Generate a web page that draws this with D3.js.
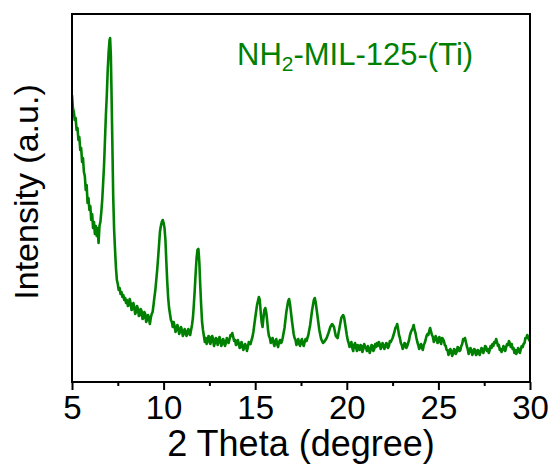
<!DOCTYPE html>
<html>
<head>
<meta charset="utf-8">
<script src="https://cdn.jsdelivr.net/npm/d3@7"></script>
<style>
  body { margin: 0; background: #fff; }
  text { font-family: "Liberation Sans", Arial, sans-serif; }
</style>
</head>
<body>
<div id="chart"></div>
<script>
// XRD pattern of NH2-MIL-125-(Ti) (rows of both arrays line up)
var twoTheta = [
  5.00, 5.05, 5.10, 5.15, 5.20, 5.25, 5.30, 5.35, 5.40, 5.45, 5.50, 5.55, 5.60, 5.65, 5.70, 5.75, 5.80, 5.85, 5.90, 5.95,
  6.00, 6.05, 6.10, 6.15, 6.20, 6.25, 6.30, 6.35, 6.40, 6.45, 6.50, 6.55, 6.60, 6.65, 6.70, 6.75, 6.80, 6.85, 6.90, 6.95,
  7.00, 7.05, 7.08, 7.12, 7.15, 7.20, 7.25, 7.30, 7.35, 7.40, 7.45, 7.50, 7.55, 7.60, 7.65, 7.70, 7.75, 7.80, 7.85, 7.90, 7.95,
  8.0, 8.05, 8.1, 8.15, 8.2, 8.25, 8.3, 8.35, 8.4, 8.45, 8.5, 8.55, 8.6, 8.65, 8.7, 8.75, 8.8, 8.85, 8.9, 8.95, 9.0, 9.05, 9.1, 9.15, 9.2,
  9.25, 9.3, 9.35, 9.4, 9.45, 9.5, 9.55, 9.6, 9.65, 9.7, 9.75, 9.8, 9.85, 9.9, 9.95, 10.0, 10.05, 10.1, 10.15, 10.2, 10.25, 10.3, 10.35, 10.4, 10.45,
  10.5, 10.55, 10.6, 10.65, 10.7, 10.75, 10.8, 10.85, 10.9, 10.95, 11.0, 11.05, 11.1, 11.15, 11.2, 11.25, 11.3, 11.35, 11.4, 11.45, 11.5,
  11.55, 11.6, 11.65, 11.7, 11.75, 11.8, 11.85, 11.9, 11.95, 12.0, 12.05, 12.1, 12.15,
  12.2, 12.25, 12.3, 12.35, 12.4, 12.45, 12.5, 12.55, 12.6, 12.65, 12.7, 12.75, 12.8, 12.85, 12.9, 12.95, 13.0, 13.05, 13.1, 13.15,
  13.2, 13.25, 13.3, 13.35, 13.4, 13.45, 13.5, 13.55, 13.6, 13.65, 13.7, 13.75, 13.8, 13.85, 13.9, 13.95, 14.0, 14.05, 14.1, 14.15,
  14.2, 14.25, 14.3, 14.35, 14.4, 14.45, 14.5, 14.55, 14.6, 14.65, 14.7, 14.75, 14.8, 14.85, 14.9,
  15.0, 15.1, 15.2, 15.25, 15.3, 15.35, 15.4, 15.45, 15.5, 15.55, 15.6, 15.65, 15.7,
  15.75, 15.8, 15.85, 15.9, 15.95, 16.0, 16.05, 16.1, 16.15, 16.2, 16.25, 16.3, 16.35, 16.4, 16.45,
  16.5, 16.6, 16.7, 16.8, 16.85, 16.9, 17.0, 17.1,
  17.15, 17.2, 17.25, 17.3, 17.35, 17.4, 17.45, 17.5, 17.55, 17.6, 17.65, 17.7, 17.75, 17.8, 17.85,
  17.9, 18.0, 18.1, 18.2, 18.25, 18.3, 18.4, 18.5, 18.6, 18.7, 18.8, 18.9, 19.0, 19.1, 19.2, 19.3, 19.4, 19.5, 19.6, 19.7, 19.8, 19.85, 19.9, 20.0,
  20.05, 20.1, 20.15, 20.2, 20.25, 20.3, 20.35, 20.4, 20.45, 20.5, 20.55, 20.6, 20.65, 20.7, 20.75, 20.8, 20.85, 20.9, 20.95, 21.0,
  21.05, 21.1, 21.15, 21.2, 21.25, 21.3, 21.35, 21.4, 21.45, 21.5, 21.55, 21.6, 21.65, 21.7, 21.75, 21.8, 21.85, 21.9, 21.95, 22.0,
  22.05, 22.1, 22.15, 22.2, 22.25, 22.3, 22.35, 22.4,
  22.45, 22.5, 22.55, 22.6, 22.65, 22.7, 22.75, 22.8, 22.85, 22.9, 22.95,
  23.0, 23.05, 23.1, 23.15, 23.2, 23.25, 23.3, 23.35, 23.4, 23.45,
  23.5, 23.55, 23.6, 23.65, 23.7, 23.75, 23.8, 23.85, 23.9, 23.95,
  24.0, 24.05, 24.1, 24.15, 24.2, 24.25, 24.3, 24.35, 24.4, 24.45,
  24.5, 24.55, 24.6, 24.65, 24.7, 24.75, 24.8, 24.85, 24.9, 24.95,
  25.0, 25.05, 25.1, 25.15, 25.2, 25.25, 25.3, 25.35, 25.4, 25.45,
  25.5, 25.55, 25.6, 25.65, 25.7, 25.75, 25.8, 25.85, 25.9, 25.95,
  26.0, 26.05, 26.1, 26.15, 26.2, 26.25, 26.3, 26.35, 26.4, 26.45,
  26.5, 26.55, 26.6, 26.65, 26.7, 26.75, 26.8, 26.85, 26.9, 26.95,
  27.0, 27.05, 27.1, 27.15, 27.2, 27.25, 27.3, 27.35, 27.4, 27.45,
  27.5, 27.55, 27.6, 27.65, 27.7, 27.75, 27.8, 27.85, 27.9, 27.95,
  28.0, 28.05, 28.1, 28.15, 28.2, 28.25, 28.3, 28.35, 28.4, 28.45,
  28.5, 28.55, 28.6, 28.65, 28.7, 28.75, 28.8, 28.85, 28.9, 28.95,
  29.0, 29.05, 29.1, 29.15, 29.2, 29.25, 29.3, 29.35, 29.4, 29.45,
  29.5, 29.55, 29.6, 29.65, 29.7, 29.75, 29.8, 29.85, 29.9, 29.95, 30.0
];
var intensity = [
  287, 274, 270, 262, 264, 252, 254, 242, 245, 232, 234, 220, 224, 210, 206, 192, 197, 179, 184, 172,
  176, 162, 168, 154, 160, 148, 156, 146, 154, 139, 156, 160, 170, 182, 199, 217, 242, 267, 287, 312,
  330, 342, 344, 327, 297, 242, 185, 152, 132, 114, 102, 98, 92, 94, 88, 90, 85, 87, 82, 84, 79,
  82, 76, 77, 83, 79, 72, 73, 79, 75, 68, 70, 76, 73, 66, 67, 73, 71, 63, 64, 70, 68, 60, 62, 67, 64,
  58, 64, 68, 70, 77, 85, 92, 102, 112, 124, 137, 150, 156, 160, 162, 159, 154, 142, 120, 100, 84, 74, 68, 62, 60,
  55, 60, 56, 50, 52, 57, 54, 48, 50, 55, 52, 46, 48, 53, 51, 46, 48, 53, 50, 47, 52,
  57, 64, 77, 92, 109, 124, 132, 133, 120, 97, 77, 60, 52,
  46, 40, 44, 38, 40, 46, 45, 38, 41, 46, 43, 36, 39, 44, 43, 37, 40, 45, 42, 36,
  38, 43, 41, 36, 39, 44, 42, 39, 43, 47, 46, 49, 45, 41, 42, 37, 38, 42, 39, 34,
  35, 40, 37, 32, 34, 38, 36, 31, 35, 40, 39, 38, 42, 45, 50,
  64, 77, 85, 82, 70, 60, 55, 64, 72, 74, 70, 62, 52,
  46, 44, 39, 41, 44, 39, 36, 41, 43, 38, 35, 40, 42, 39, 40,
  44, 54, 70, 81, 83, 78, 62, 48,
  44, 42, 37, 40, 43, 38, 36, 41, 43, 38, 36, 40, 43, 41, 44,
  47, 57, 71, 82, 84, 80, 66, 52, 43, 39, 41, 44, 49, 55, 58, 55, 46, 44, 54, 64, 67, 65, 59, 47,
  42, 39, 35, 37, 40, 34, 31, 37, 39, 35, 31, 37, 35, 32, 37, 36, 30, 33, 38, 35,
  34, 31, 36, 34, 29, 32, 37, 36, 31, 33, 38, 35, 39, 36, 40, 38, 33, 35, 39, 37,
  33, 35, 39, 38, 34, 36, 41, 40,
  42, 44, 47, 50, 54, 55, 58, 53, 47, 44, 39,
  37, 33, 35, 39, 38, 34, 36, 39, 42, 47,
  50, 52, 54, 57, 52, 49, 44, 40, 37, 33,
  35, 38, 34, 32, 37, 39, 42, 46, 48, 47,
  51, 54, 50, 47, 45, 40, 42, 46, 44, 39,
  40, 45, 42, 38, 44, 43, 41, 37, 36, 32,
  32, 27, 29, 33, 31, 26, 28, 33, 32, 28,
  30, 35, 34, 31, 32, 36, 38, 43, 42, 44,
  40, 36, 33, 28, 31, 34, 32, 27, 29, 33,
  32, 27, 28, 32, 31, 27, 30, 34, 33, 29,
  32, 36, 35, 31, 33, 29, 32, 36, 34, 38,
  36, 40, 39, 43, 40, 36, 37, 32, 33, 30,
  32, 36, 34, 31, 35, 38, 37, 41, 39, 35,
  38, 33, 34, 29, 32, 28, 30, 34, 31, 29,
  33, 36, 35, 38, 39, 44, 44, 47, 45, 42, 41
];
var xTicks = [5, 10, 15, 20, 25, 30];
var xMinorTicks = [7.5, 12.5, 17.5, 22.5, 27.5];

var width = 552, height = 464;
var plotLeft = 72, plotRight = 530, plotTop = 14, plotBottom = 382;
var green = "#008000";

var svg = d3.select("#chart").append("svg")
    .attr("width", width)
    .attr("height", height);

var x = d3.scaleLinear().domain([5, 30]).range([plotLeft, plotRight]);
var y = d3.scaleLinear().domain([0, 368]).range([plotBottom, plotTop]);

var data = twoTheta.map(function (t, i) { return [t, intensity[i]]; });

svg.append("clipPath").attr("id", "plot-clip")
  .append("rect")
    .attr("x", plotLeft).attr("y", plotTop)
    .attr("width", plotRight - plotLeft).attr("height", plotBottom - plotTop);

// pattern
svg.append("path")
    .datum(data)
    .attr("clip-path", "url(#plot-clip)")
    .attr("fill", "none")
    .attr("stroke", green)
    .attr("stroke-width", 2.6)
    .attr("stroke-linejoin", "round")
    .attr("d", d3.line()
        .x(function (d) { return x(d[0]); })
        .y(function (d) { return y(d[1]); }));

// minor ticks
svg.append("g")
    .attr("transform", "translate(0," + plotBottom + ")")
    .call(d3.axisBottom(x).tickValues(xMinorTicks).tickSize(4).tickFormat(""))
    .call(function (g) { g.select(".domain").remove(); })
    .selectAll("line").attr("stroke-width", 2);

// major ticks + labels
var xAxis = svg.append("g")
    .attr("transform", "translate(0," + plotBottom + ")")
    .call(d3.axisBottom(x).tickValues(xTicks).tickSize(8).tickPadding(6).tickSizeOuter(0));
xAxis.select(".domain").remove();
xAxis.selectAll("line").attr("stroke-width", 2);
xAxis.selectAll("text")
    .attr("fill", "#000")
    .style("font-family", '"Liberation Sans", Arial, sans-serif')
    .style("font-size", "33px");

// frame
svg.append("rect")
    .attr("x", plotLeft).attr("y", plotTop)
    .attr("width", plotRight - plotLeft).attr("height", plotBottom - plotTop)
    .attr("fill", "none")
    .attr("stroke", "#000")
    .attr("stroke-width", 2);

// axis titles
svg.append("text")
    .attr("x", (plotLeft + plotRight) / 2)
    .attr("y", 456)
    .attr("text-anchor", "middle")
    .style("font-size", "36px")
    .text("2 Theta (degree)");

svg.append("text")
    .attr("transform", "translate(38,192) rotate(-90)")
    .attr("text-anchor", "middle")
    .style("font-size", "34px")
    .text("Intensity (a.u.)");

// sample label
var label = svg.append("text")
    .attr("x", 237)
    .attr("y", 65)
    .attr("fill", green)
    .style("font-size", "31px");
label.append("tspan").text("NH");
label.append("tspan").attr("dy", 6).style("font-size", "21px").text("2");
label.append("tspan").attr("dy", -6).text("-MIL-125-(Ti)");
</script>
</body>
</html>
